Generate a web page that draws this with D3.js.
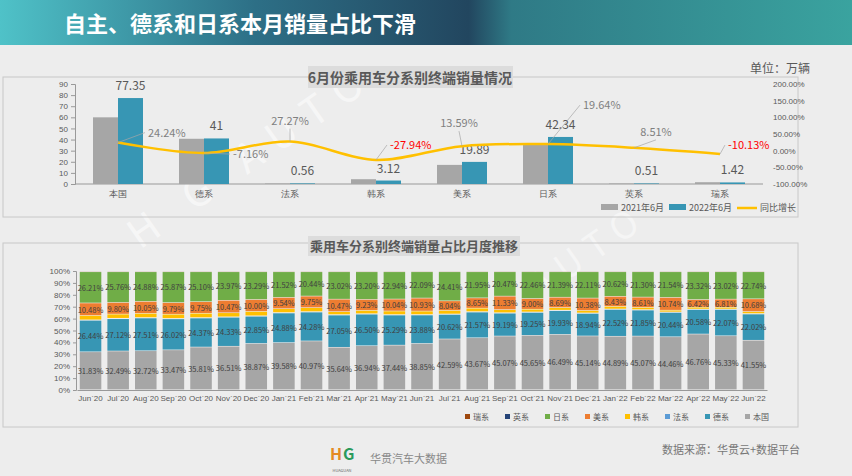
<!DOCTYPE html>
<html><head><meta charset="utf-8">
<script src="https://cdn.jsdelivr.net/npm/d3@7"></script>
<style>body{margin:0;background:#ececec;font-family:"Noto Sans CJK SC","Noto Sans",sans-serif}</style>
</head><body>
<svg id="c" width="852" height="476"></svg>
<script>
// ---- top chart data ----
const brands = ["本国", "德系", "法系", "韩系", "美系", "日系", "英系", "瑞系"];
const sales2021 = [60.0, 40.7, 0.5, 4.3, 17.2, 35.5, 0.5, 1.6];
const sales2022 = [77.35, 41, 0.56, 3.12, 19.89, 42.34, 0.51, 1.42];
const growth = [24.24, -7.16, 27.27, -27.94, 13.59, 19.64, 8.51, -10.13];
const leftTicks = [0, 10, 20, 30, 40, 50, 60, 70, 80, 90];
const rightTicks = [-100, -50, 0, 50, 100, 150, 200];
// label offsets for growth labels (dx, dy, anchor)
const growthLabelPos = [[30, -6, "start"], [29, 5, "start"], [0, -17, "middle"], [14, -11, "start"],
  [-3, -19, "middle"], [35, -35, "start"], [22, -12, "middle"], [8, -5, "start"]];

// ---- bottom chart data ----
const months = ["Jun`20","Jul`20","Aug`20","Sep`20","Oct`20","Nov`20","Dec`20","Jan`21","Feb`21","Mar`21","Apr`21","May`21","Jun`21",
  "Jul`21","Aug`21","Sep`21","Oct`21","Nov`21","Dec`21","Jan`22","Feb`22","Mar`22","Apr`22","May`22","Jun`22"];
const shareDomestic = [31.83,32.49,32.72,33.47,35.81,36.51,38.87,39.58,40.97,35.64,36.94,37.44,38.85,42.59,43.67,45.07,45.65,46.49,45.14,44.89,45.07,44.46,46.76,45.33,41.55];
const shareGerman = [26.44,27.12,27.51,26.02,24.37,24.33,22.85,24.88,24.28,27.05,26.50,25.29,23.88,20.62,21.57,19.19,19.25,19.93,18.94,22.52,21.85,20.44,20.58,22.07,22.02];
const shareFrench = [0.4,0.4,0.4,0.4,0.4,0.4,0.4,0.4,0.4,0.4,0.4,0.4,0.4,0.4,0.4,0.4,0.4,0.4,0.4,0.4,0.4,0.4,0.4,0.4,0.4];
const shareKorean = [3.7,3.5,3.5,3.5,3.6,3.4,3.7,3.2,3.3,2.5,2.8,3.0,2.9,3.0,2.9,2.6,2.3,2.2,2.1,2.2,1.9,1.5,1.6,1.5,1.7];
const shareAmerican = [10.48,9.80,10.05,9.79,9.75,10.47,10.00,9.54,9.75,10.47,9.23,10.04,10.93,8.04,8.65,11.33,9.00,8.69,10.38,8.43,8.61,10.74,6.42,6.81,10.68];
const shareJapanese = [26.21,25.76,24.88,25.87,25.10,23.97,23.29,21.52,20.44,23.02,23.20,22.94,22.09,24.41,21.95,20.47,22.46,21.39,22.11,20.62,21.30,21.54,23.32,23.02,22.74];
const shareBritish = [0.3,0.3,0.3,0.3,0.3,0.3,0.3,0.3,0.3,0.3,0.3,0.3,0.3,0.3,0.3,0.3,0.3,0.3,0.3,0.3,0.3,0.3,0.3,0.3,0.3];
const shareSwedish = [0.6,0.6,0.6,0.6,0.6,0.6,0.6,0.6,0.6,0.6,0.6,0.6,0.6,0.6,0.6,0.6,0.6,0.6,0.6,0.6,0.6,0.6,0.6,0.6,0.6];
const pctTicks = [0,10,20,30,40,50,60,70,80,90,100];

const svg = d3.select("#c");
const grey = "#595959";

// background + header
const grad = svg.append("defs").append("linearGradient").attr("id", "hg");
grad.append("stop").attr("offset", "0%").attr("stop-color", "#4fc2c8");
grad.append("stop").attr("offset", "30%").attr("stop-color", "#2d6f86");
grad.append("stop").attr("offset", "55%").attr("stop-color", "#22465f");
grad.append("stop").attr("offset", "60%").attr("stop-color", "#2f7a86");
grad.append("stop").attr("offset", "100%").attr("stop-color", "#3aa39f");
svg.append("rect").attr("width", 852).attr("height", 476).attr("fill", "#ededed");
svg.append("rect").attr("width", 852).attr("height", 45).attr("fill", "url(#hg)");
svg.append("text").attr("x", 64).attr("y", 32).attr("fill", "#fff")
  .style("font-size", "22px").style("font-weight", "700").text("自主、德系和日系本月销量占比下滑");

// watermark (behind the charts)
svg.append("text").attr("transform", "translate(140,250) rotate(-35)").attr("fill", "#fff").attr("opacity", 0.55)
  .style("font-size", "40px").style("letter-spacing", "14px").text("H G  AUTO");
svg.append("text").attr("transform", "translate(540,300) rotate(-35)").attr("fill", "#fff").attr("opacity", 0.45)
  .style("font-size", "36px").style("letter-spacing", "10px").text("AUTO");

// ---------- TOP PANEL ----------
svg.append("rect").attr("x", 3).attr("y", 77).attr("width", 795).attr("height", 140)
  .attr("fill", "none").attr("stroke", "#c8c8c8");
svg.append("rect").attr("x", 308).attr("y", 66).attr("width", 205).attr("height", 22).attr("fill", "#dcdcdc");
svg.append("text").attr("x", 410).attr("y", 83).attr("text-anchor", "middle").attr("fill", grey)
  .style("font-size", "14px").style("font-weight", "700").text("6月份乘用车分系别终端销量情况");
svg.append("text").attr("x", 810).attr("y", 73).attr("text-anchor", "end").attr("fill", grey)
  .style("font-size", "12px").text("单位：万辆");

const x = d3.scaleBand().domain(brands).range([75, 763]);
const y = d3.scaleLinear().domain([0, 90]).range([184, 84]);
const yr = d3.scaleLinear().domain([-100, 200]).range([184, 84]);
const bw = 25;

const gl = svg.append("g").attr("transform", "translate(75,0)")
  .call(d3.axisLeft(y).tickValues(leftTicks).tickSize(4));
gl.selectAll("text").attr("fill", grey).style("font-size", "8px");
gl.selectAll("line,path").attr("stroke", "#999");
const gr = svg.append("g").attr("transform", "translate(770,0)")
  .call(d3.axisRight(yr).tickValues(rightTicks).tickSize(0).tickFormat(d => d.toFixed(2) + "%"));
gr.select("path").remove();
gr.selectAll("text").attr("fill", grey).style("font-size", "8px");
const gb = svg.append("g").attr("transform", "translate(0,184)")
  .call(d3.axisBottom(x).tickSize(0).tickPadding(7));
gb.select("path").attr("stroke", "#999").attr("d", "M75,0H763");
gb.selectAll("text").attr("fill", grey).style("font-size", "9px");

brands.forEach((b, i) => {
  const cx = x(b) + x.bandwidth() / 2;
  svg.append("rect").attr("x", cx - bw).attr("y", y(sales2021[i])).attr("width", bw)
    .attr("height", y(0) - y(sales2021[i])).attr("fill", "#a6a6a6");
  svg.append("rect").attr("x", cx).attr("y", y(sales2022[i])).attr("width", bw)
    .attr("height", y(0) - y(sales2022[i])).attr("fill", "#3796b4");
  svg.append("text").attr("x", cx + bw / 2).attr("y", y(sales2022[i]) - 8).attr("text-anchor", "middle")
    .attr("fill", grey).style("font-size", "12px").text(sales2022[i]);
});

const pts = brands.map((b, i) => [x(b) + x.bandwidth() / 2, yr(growth[i])]);
svg.append("path").attr("d", d3.line().curve(d3.curveCatmullRom)(pts))
  .attr("fill", "none").attr("stroke", "#ffc000").attr("stroke-width", 2.5);
pts.forEach((p, i) => {
  const [dx, dy, anc] = growthLabelPos[i];
  const neg = growth[i] < -10;
  svg.append("line").attr("x1", p[0]).attr("y1", p[1]).attr("x2", p[0] + dx - (anc === "start" ? 3 : 0))
    .attr("y2", p[1] + dy + (anc === "middle" ? 4 : -4)).attr("stroke", "#a6a6a6").attr("stroke-width", 0.7);
  svg.append("text").attr("x", p[0] + dx).attr("y", p[1] + dy).attr("text-anchor", anc)
    .attr("fill", neg ? "#ff0000" : "#7f7f7f").style("font-size", "11px")
    .text(growth[i].toFixed(2) + "%");
});

// top legend
const tl = [["2021年6月", "#a6a6a6", "rect"], ["2022年6月", "#3796b4", "rect"], ["同比增长", "#ffc000", "line"]];
tl.forEach((d, i) => {
  const lx = 601 + i * 68;
  if (d[2] === "rect") svg.append("rect").attr("x", lx).attr("y", 204).attr("width", 17).attr("height", 6).attr("fill", d[1]);
  else svg.append("line").attr("x1", lx).attr("x2", lx + 20).attr("y1", 208).attr("y2", 208).attr("stroke", d[1]).attr("stroke-width", 2.5);
  svg.append("text").attr("x", lx + (d[2] === "rect" ? 20 : 23)).attr("y", 211).attr("fill", grey)
    .style("font-size", "9px").text(d[0]);
});

// ---------- BOTTOM PANEL ----------
svg.append("rect").attr("x", 3).attr("y", 243).attr("width", 795).attr("height", 184)
  .attr("fill", "none").attr("stroke", "#c8c8c8");
svg.append("rect").attr("x", 308).attr("y", 236).attr("width", 212).attr("height", 20).attr("fill", "#dcdcdc");
svg.append("text").attr("x", 414).attr("y", 251).attr("text-anchor", "middle").attr("fill", grey)
  .style("font-size", "13px").style("font-weight", "700").text("乘用车分系别终端销量占比月度推移");

const series = [
  ["本国", shareDomestic, "#a6a6a6", true],
  ["德系", shareGerman, "#3796b4", true],
  ["法系", shareFrench, "#5b9bd5", false],
  ["韩系", shareKorean, "#ffc000", false],
  ["美系", shareAmerican, "#ed7d31", true],
  ["日系", shareJapanese, "#70ad47", true],
  ["英系", shareBritish, "#264478", false],
  ["瑞系", shareSwedish, "#9e480e", false]
];
const rows = months.map((m, i) => {
  const r = { m };
  series.forEach(s => r[s[0]] = s[1][i]);
  return r;
});
const stack = d3.stack().keys(series.map(s => s[0])).offset(d3.stackOffsetExpand)(rows);

const xb = d3.scaleBand().domain(months).range([77, 767]).paddingInner(0.22).paddingOuter(0.1);
const yb = d3.scaleLinear().domain([0, 1]).range([390, 271]);

const ga = svg.append("g").attr("transform", "translate(76,0)")
  .call(d3.axisLeft(yb).tickValues(pctTicks.map(d => d / 100)).tickSize(3).tickFormat(d => Math.round(d * 100) + "%"));
ga.selectAll("text").attr("fill", grey).style("font-size", "8px");
ga.selectAll("line,path").attr("stroke", "#999");
const gx = svg.append("g").attr("transform", "translate(0,390)")
  .call(d3.axisBottom(xb).tickSize(0).tickPadding(5));
gx.select("path").attr("stroke", "#999");
gx.selectAll("text").attr("fill", grey).style("font-size", "8px");

stack.forEach((layer, k) => {
  const s = series[k];
  svg.append("g").selectAll("rect").data(layer).join("rect")
    .attr("x", d => xb(d.data.m)).attr("width", xb.bandwidth())
    .attr("y", d => yb(d[1])).attr("height", d => Math.max(0, yb(d[0]) - yb(d[1]) - 0.6))
    .attr("fill", s[2]);
  if (s[3]) svg.append("g").selectAll("text").data(layer).join("text")
    .attr("x", d => xb(d.data.m) + xb.bandwidth() / 2).attr("y", d => yb((d[0] + d[1]) / 2) + 3)
    .attr("text-anchor", "middle").attr("fill", "#404040").style("font-size", "7.5px")
    .text(d => d.data[s[0]].toFixed(2) + "%");
});

// bottom legend (reverse order)
series.slice().reverse().forEach((s, i) => {
  const lx = 465 + i * 40;
  svg.append("rect").attr("x", lx).attr("y", 414).attr("width", 5).attr("height", 5).attr("fill", s[2]);
  svg.append("text").attr("x", lx + 8).attr("y", 419.5).attr("fill", grey).style("font-size", "8px").text(s[0]);
});

// footer
svg.append("text").attr("x", 330).attr("y", 460).attr("fill", "#e48a22").style("font-size", "16px").style("font-weight", "700").text("H");
svg.append("text").attr("x", 343).attr("y", 460).attr("fill", "#2a9a5a").style("font-size", "16px").style("font-weight", "700").text("G");
svg.append("text").attr("x", 342).attr("y", 472).attr("text-anchor", "middle").attr("fill", "#666").style("font-size", "4px").text("HUAGUAN");
svg.append("text").attr("x", 370).attr("y", 463).attr("fill", "#888").style("font-size", "11px").text("华贯汽车大数据");
svg.append("text").attr("x", 800).attr("y", 454).attr("text-anchor", "end").attr("fill", "#777").style("font-size", "11px").text("数据来源：华贯云+数据平台");
</script>
</body></html>
